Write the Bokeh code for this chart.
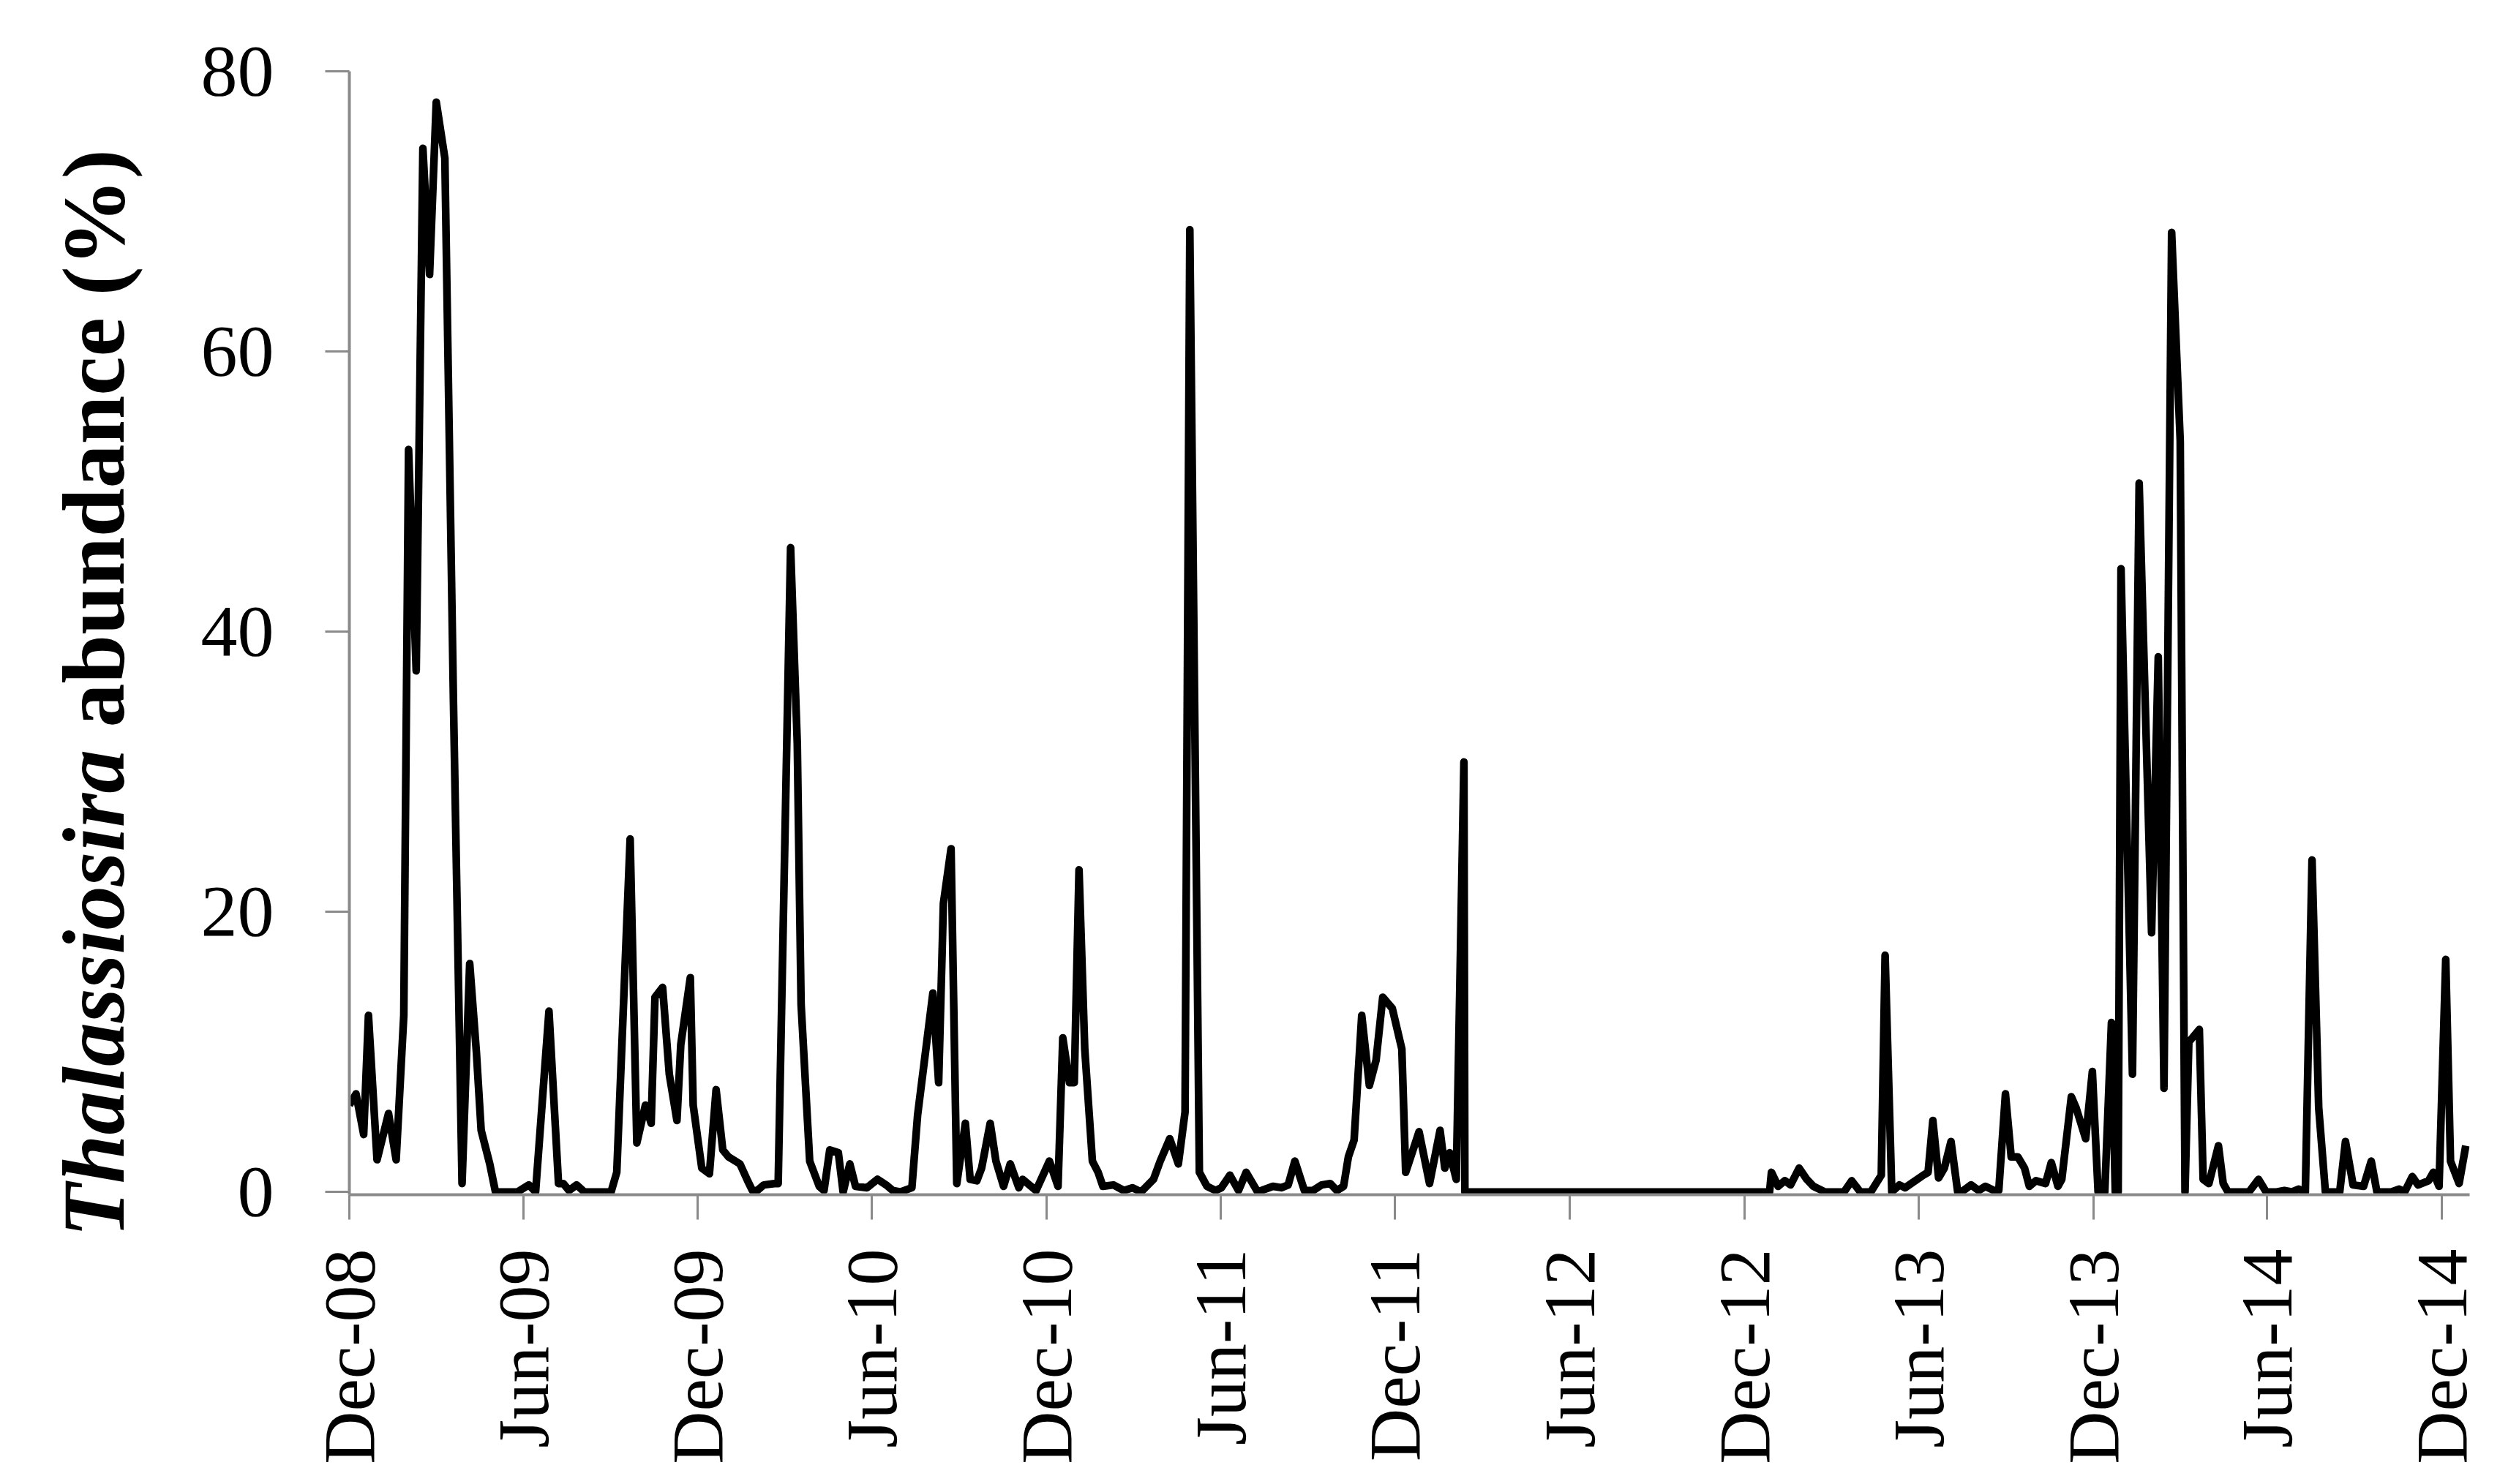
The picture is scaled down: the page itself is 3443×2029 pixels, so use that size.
import math
import pandas as pd
from bokeh.plotting import figure
from bokeh.models import Range1d, FixedTicker, DatetimeTickFormatter, ColumnDataSource
from bokeh.core.properties import value
from bokeh.embed import file_html
from bokeh.resources import INLINE

# ---- data: sampling day (days since 2008-12-01) and Thalassiosira abundance (%) ----
start_date = "2008-12-01"
sample_day = [
    0, 7, 15, 20, 29, 41, 49, 57, 62, 70, 77, 84, 91, 100, 109, 118, 126, 133, 138, 147,
    153, 161, 168, 176, 188, 195, 209, 219, 224, 230, 238, 246, 260, 274, 280, 294, 301,
    310, 316, 320, 328, 335, 343, 347, 357, 360, 369, 377, 384, 391, 397, 409, 417, 422,
    427, 434, 445, 449, 462, 469, 473, 482, 492, 497, 503, 512, 517, 524, 530, 542, 553,
    562, 569, 577, 589, 595, 611, 617, 622, 630, 636, 645, 650, 657, 662, 671, 677, 685,
    692, 701, 705, 719, 733, 742, 747, 754, 759, 764, 770, 778, 784, 789, 800, 811, 820,
    829, 842, 849, 859, 868, 875, 880, 890, 898, 907, 913, 922, 931, 939, 951, 967, 976,
    983, 990, 1000, 1009, 1018, 1027, 1034, 1041, 1046, 1052, 1060, 1068, 1075, 1082,
    1092, 1102, 1106, 1120, 1131, 1142, 1147, 1152, 1159, 1167, 1168, 1200, 1250, 1300,
    1350, 1400, 1450, 1487, 1489, 1496, 1503, 1509, 1518, 1526, 1533, 1545, 1565, 1573,
    1582, 1593, 1604, 1608, 1615, 1623, 1629, 1648, 1653, 1658, 1664, 1670, 1677, 1684,
    1690, 1698, 1706, 1713, 1722, 1727, 1734, 1740, 1747, 1754, 1759, 1766, 1776, 1782,
    1789, 1793, 1803, 1808, 1818, 1825, 1831, 1838, 1845, 1849, 1852, 1855, 1867, 1874,
    1887, 1894, 1900, 1908, 1917, 1922, 1926, 1937, 1941, 1947, 1957, 1962, 1967, 1989,
    1999, 2007, 2018, 2026, 2034, 2041, 2048, 2055, 2062, 2069, 2084, 2090, 2098, 2109,
    2117, 2123, 2138, 2146, 2152, 2160, 2166, 2177, 2182, 2188, 2195, 2200, 2209, 2216,
]
abundance = [
    6.2, 7.0, 4.1, 12.6, 2.3, 5.6, 2.3, 12.6, 53.0, 37.2, 74.5, 65.5, 77.8, 73.8, 35.0, 0.6, 16.3, 10.0, 4.4, 2.0,
    0.0, 0.0, 0.0, 0.0, 0.5, 0.0, 12.9, 0.6, 0.6, 0.1, 0.5, 0.0, 0.0, 0.0, 1.4, 25.2, 3.5,
    6.2, 4.9, 13.9, 14.6, 8.4, 5.1, 10.5, 15.3, 6.2, 1.7, 1.3, 7.3, 3.0, 2.5, 2.0, 0.8, 0.1,
    0.1, 0.5, 0.6, 0.6, 46.0, 32.0, 13.4, 2.2, 0.4, 0.1, 3.0, 2.8, 0.0, 2.0, 0.4, 0.3, 0.9,
    0.5, 0.1, 0.0, 0.3, 5.5, 14.2, 7.8, 20.6, 24.5, 0.6, 4.9, 0.9, 0.8, 1.7, 4.9, 2.2, 0.4,
    2.0, 0.3, 0.9, 0.1, 2.2, 0.4, 11.0, 7.8, 7.8, 23.0, 10.2, 2.2, 1.4, 0.4, 0.5, 0.1, 0.3,
    0.0, 0.9, 2.2, 3.8, 2.0, 5.7, 68.7, 1.4, 0.4, 0.1, 0.3, 1.2, 0.1, 1.4, 0.0, 0.4, 0.3,
    0.5, 2.2, 0.1, 0.1, 0.5, 0.6, 0.1, 0.4, 2.5, 3.7, 12.6, 7.6, 9.4, 13.9,
    13.1, 10.2, 1.4, 4.3, 0.6, 4.4, 1.7, 2.8, 0.9, 30.7, 0.0, 0.0, 0.0, 0.0,
    0.0, 0.0, 0.0, 0.0, 1.4, 0.4, 0.8, 0.5, 1.7, 0.9, 0.4, 0.0, 0.0, 0.8,
    0.0, 0.0, 1.2, 16.9, 0.0, 0.5, 0.3, 1.2, 1.4, 5.1, 1.0, 1.7, 3.6, 0.0,
    0.1, 0.5, 0.1, 0.4, 0.1, 0.1, 7.0, 2.5, 2.5, 1.7, 0.4, 0.8, 0.6, 2.1,
    0.4, 0.9, 6.8, 6.0, 3.8, 8.6, 0.0, 0.0, 12.1, 0.0, 0.0, 44.5, 8.4, 50.6,
    18.5, 38.2, 7.4, 68.5, 53.6, 0.0, 10.7, 11.6, 0.9, 0.6, 3.3, 0.6, 0.0, 0.0,
    0.9, 0.0, 0.0, 0.1, 0.0, 0.2, 0.0, 23.7, 6.0, 0.0, 0.0, 3.6, 0.5, 0.4,
    2.2, 0.0, 0.0, 0.2, 0.0, 1.1, 0.5, 0.8, 1.4, 0.4, 16.6, 2.2, 0.6, 3.3,
]
tick_dates = ["2008-12-01", "2009-06-01", "2009-12-01", "2010-06-01", "2010-12-01",
              "2011-06-01", "2011-12-01", "2012-06-01", "2012-12-01", "2013-06-01",
              "2013-12-01", "2014-06-01", "2014-12-01"]
y_ticks = [0, 20, 40, 60, 80]
axis_end_date = "2014-12-30"
y_label_italic = "Thalassiosira"
y_label_rest = "abundance (%)"

dates = pd.Timestamp(start_date) + pd.to_timedelta(sample_day, unit="D")
src = ColumnDataSource(data=dict(date=dates, value=abundance))

FONT = "Liberation Serif"
AXIS_GRAY = "#8a8a8a"

W, H = 3427, 2013
B_LEFT, B_RIGHT, B_TOP, B_BOTTOM = 477, 52, 97, 380
Y0, Y1 = -0.2, 80.0
x0 = pd.Timestamp(start_date)
x1 = pd.Timestamp(axis_end_date)

p = figure(width=W, height=H, x_axis_type="datetime",
           output_backend="svg", toolbar_location=None,
           x_range=Range1d(x0, x1), y_range=Range1d(Y0, Y1),
           min_border_left=B_LEFT, min_border_right=B_RIGHT,
           min_border_top=B_TOP, min_border_bottom=B_BOTTOM)
p.outline_line_color = None
p.xgrid.visible = False
p.ygrid.visible = False
p.background_fill_color = "white"

p.line(x="date", y="value", source=src, line_color="black", line_width=10.5,
       line_join="round")

tick_ms = [pd.Timestamp(d).value // 10**6 for d in tick_dates]
xa = p.xaxis[0]
xa.ticker = FixedTicker(ticks=tick_ms)
fmt = "%b-%y"
xa.formatter = DatetimeTickFormatter(milliseconds=fmt, seconds=fmt, minsec=fmt, minutes=fmt,
                                     hourmin=fmt, hours=fmt, days=fmt, months=fmt, years=fmt)
xa.major_label_orientation = math.pi / 2
xa.major_label_text_font = FONT
xa.major_label_text_font_size = "100px"
xa.major_label_text_color = "black"
xa.major_label_standoff = 40
xa.axis_line_color = AXIS_GRAY
xa.axis_line_width = 4
xa.major_tick_line_color = AXIS_GRAY
xa.major_tick_line_width = 3
xa.major_tick_in = 0
xa.major_tick_out = 34
xa.minor_tick_line_color = None

ya = p.yaxis[0]
ya.ticker = FixedTicker(ticks=y_ticks)
ya.major_label_text_font = FONT
ya.major_label_text_font_size = "100px"
ya.major_label_text_color = "black"
ya.major_label_standoff = 70
ya.axis_line_color = AXIS_GRAY
ya.axis_line_width = 4
ya.major_tick_line_color = AXIS_GRAY
ya.major_tick_line_width = 3
ya.major_tick_in = 0
ya.major_tick_out = 33
ya.minor_tick_line_color = None

# y-axis title: text glyphs drawn at the overlay level (not clipped to the frame)
frame_w = W - B_LEFT - B_RIGHT
frame_h = H - B_TOP - B_BOTTOM
ms_per_px = (x1 - x0) / pd.Timedelta(milliseconds=1) / frame_w
val_per_px = (Y1 - Y0) / frame_h

def px_to_x(px_from_left):
    return x0.value // 10**6 + px_from_left * ms_per_px

def px_to_y(px_from_top):
    return Y1 - px_from_top * val_per_px

title_x = px_to_x(136 - 485)         # text centre line, px relative to frame left
start1 = px_to_y(1691 - 97)          # bottom start of italic part
start2 = px_to_y(1691 - 97 - 697)    # start of upright part

p.text(x=[title_x], y=[start1], text=[y_label_italic], angle=math.pi / 2,
       text_font=value(FONT), text_font_style="bold italic", text_font_size="120px",
       text_align="left", text_baseline="middle", text_color="black", level="overlay")
p.text(x=[title_x], y=[start2], text=[y_label_rest], angle=math.pi / 2,
       text_font=value(FONT), text_font_style="bold", text_font_size="120px",
       text_align="left", text_baseline="middle", text_color="black", level="overlay")

open("out.html", "w").write(file_html(p, INLINE))
